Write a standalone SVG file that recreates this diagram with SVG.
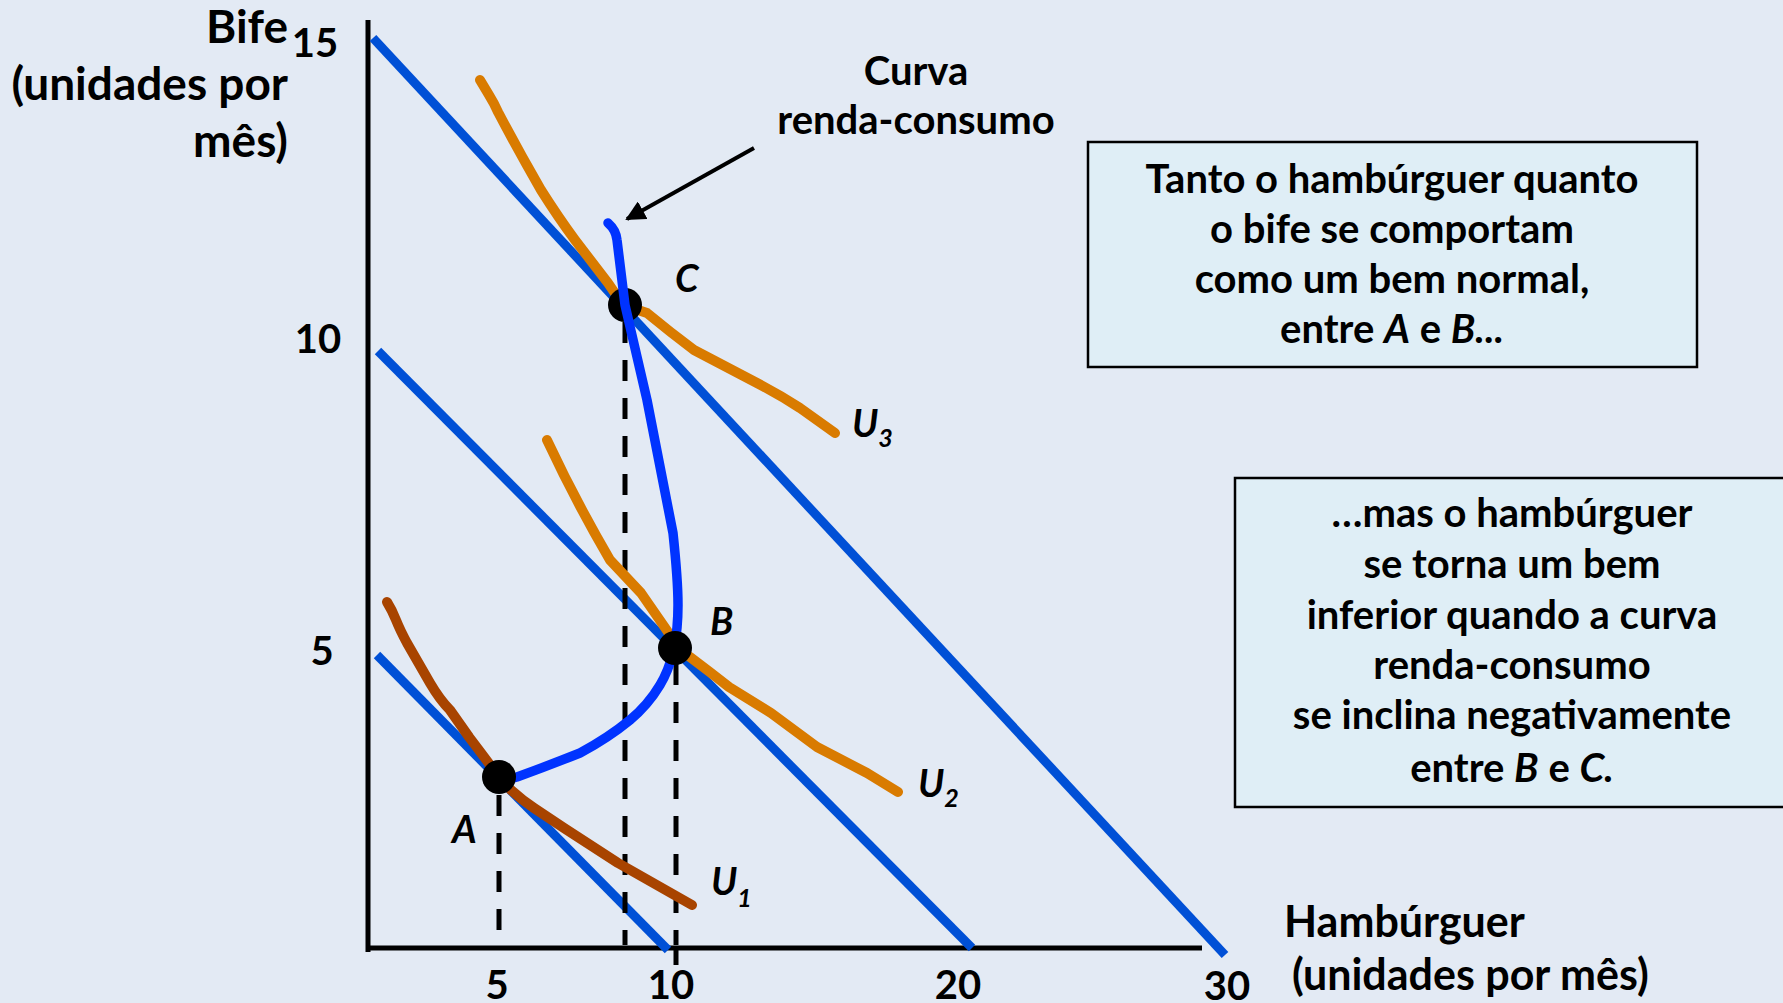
<svg xmlns="http://www.w3.org/2000/svg" width="1783" height="1003" viewBox="0 0 1783 1003">
<defs>
<style>
text{font-family:Lato,"Liberation Sans",sans-serif;font-weight:bold;fill:#000}
.lbl{font-size:46px}
.xl{font-size:43px}
.box{font-size:40px;text-anchor:middle}
.num{font-size:40px;text-anchor:middle}
.pt{font-size:38px;font-style:italic}
.budget{stroke:#0050D6;stroke-width:9;fill:none}
.icc{stroke:#0033FF;stroke-width:9.5;fill:none;stroke-linecap:round;stroke-linejoin:round}
.ind{stroke-width:10;fill:none;stroke-linecap:round;stroke-linejoin:round}
.dash{stroke:#000;stroke-width:5;stroke-dasharray:21 17;fill:none}
.axis{stroke:#000;stroke-width:5;fill:none}
.boxr{fill:#DFEEF6;stroke:#000;stroke-width:2.5}
</style>
<marker id="ah" viewBox="0 0 10 10" refX="9" refY="5" markerWidth="5" markerHeight="5" orient="auto" markerUnits="strokeWidth">
<path d="M0,0 L10,5 L0,10 z" fill="#000"/>
</marker>
</defs>
<rect width="1783" height="1003" fill="#E3EAF4"/>

<g id="axes">
<line class="axis" x1="368" y1="20" x2="368" y2="952"/>
<line class="axis" x1="366" y1="948" x2="1202" y2="948"/>
<line class="axis" x1="676" y1="948" x2="676" y2="965"/>
</g>

<g id="axis-labels">
<text class="lbl" x="288" y="43" text-anchor="end">Bife</text>
<text class="lbl" x="288" y="100" text-anchor="end">(unidades por</text>
<text class="lbl" x="288" y="157" text-anchor="end">mês)</text>
<text class="num" x="315" y="57">15</text>
<text class="num" x="318" y="353">10</text>
<text class="num" x="322" y="665">5</text>
<text class="num" x="497" y="999">5</text>
<text class="num" x="671" y="999">10</text>
<text class="num" x="958" y="999">20</text>
<text class="num" x="1227" y="1000">30</text>
<text class="xl" x="1284" y="937">Hambúrguer</text>
<text class="xl" x="1292" y="990">(unidades por mês)</text>
</g>

<g id="connectors">
<line class="budget" x1="373" y1="38" x2="1225" y2="955"/>
<line class="budget" x1="378" y1="351" x2="972" y2="948"/>
<line class="budget" x1="377" y1="655" x2="668" y2="950"/>
<line class="dash" x1="499" y1="795" x2="499" y2="930"/>
<line class="dash" x1="625" y1="322" x2="625" y2="945"/>
<line class="dash" x1="676" y1="664" x2="676" y2="945"/>
<path class="ind" stroke="#A84400" d="M387,602 Q392,610 396,620 Q400,630 407,643 L430,683 Q440,700 450,710 L469,737 Q485,758 499,777 Q505,784 511,790 Q522,800 534,808 L564,828 L618,863 L692,905"/>
<path class="ind" stroke="#D97B00" d="M547,440 Q575,500 610,560 L641,593 L668,632 L675,648 L690,657 Q710,672 729,687 L771,713 L817,747 L867,773 L898,792"/>
<path class="ind" stroke="#D97B00" d="M480,80 L489,95 Q494,103 498,112 Q518,150 541,190 Q558,217 575,240 Q592,262 608,283 L623,305 L647,313 Q670,332 694,350 L757,383 Q780,395 800,408 L835,433"/>
<line x1="754" y1="148" x2="627" y2="219" stroke="#000" stroke-width="4" marker-end="url(#ah)"/>
</g>

<g id="nodeC"><circle cx="625" cy="305" r="17"/></g>
<path id="income-consumption" class="icc" d="M608,223 Q616,230 617,240 L625,305 L647,400 L673,533 Q678,580 678,605 Q678,628 674,650 Q668,672 660,685 Q648,705 630,720 Q608,738 580,753 Q550,765 517,777 L499,782"/>
<g id="nodeB"><circle cx="675" cy="648" r="17"/></g>
<g id="nodeA"><circle cx="499" cy="777" r="17"/></g>

<g id="labels">
<text class="pt" x="675" y="292">C</text>
<text class="pt" x="710" y="635">B</text>
<text class="pt" x="452" y="843">A</text>
<text class="pt" x="852" y="437">U<tspan font-size="25" dy="10">3</tspan></text>
<text class="pt" x="918" y="797">U<tspan font-size="25" dy="10">2</tspan></text>
<text class="pt" x="711" y="895">U<tspan font-size="25" dy="12">1</tspan></text>
<text class="box" x="916" y="85">Curva</text>
<text class="box" x="916" y="134">renda-consumo</text>
</g>

<g id="box1">
<rect class="boxr" x="1088" y="142" width="609" height="225"/>
<text class="box" x="1392" y="193">Tanto o hambúrguer quanto</text>
<text class="box" x="1392" y="243">o bife se comportam</text>
<text class="box" x="1392" y="293">como um bem normal,</text>
<text class="box" x="1392" y="343">entre <tspan font-style="italic">A</tspan> e <tspan font-style="italic">B...</tspan></text>
</g>

<g id="box2">
<rect class="boxr" x="1235" y="478" width="560" height="329"/>
<text class="box" x="1512" y="527">…mas o hambúrguer</text>
<text class="box" x="1512" y="578">se torna um bem</text>
<text class="box" x="1512" y="629">inferior quando a curva</text>
<text class="box" x="1512" y="679">renda-consumo</text>
<text class="box" x="1512" y="729">se inclina negativamente</text>
<text class="box" x="1512" y="782">entre <tspan font-style="italic">B</tspan> e <tspan font-style="italic">C.</tspan></text>
</g>
</svg>
